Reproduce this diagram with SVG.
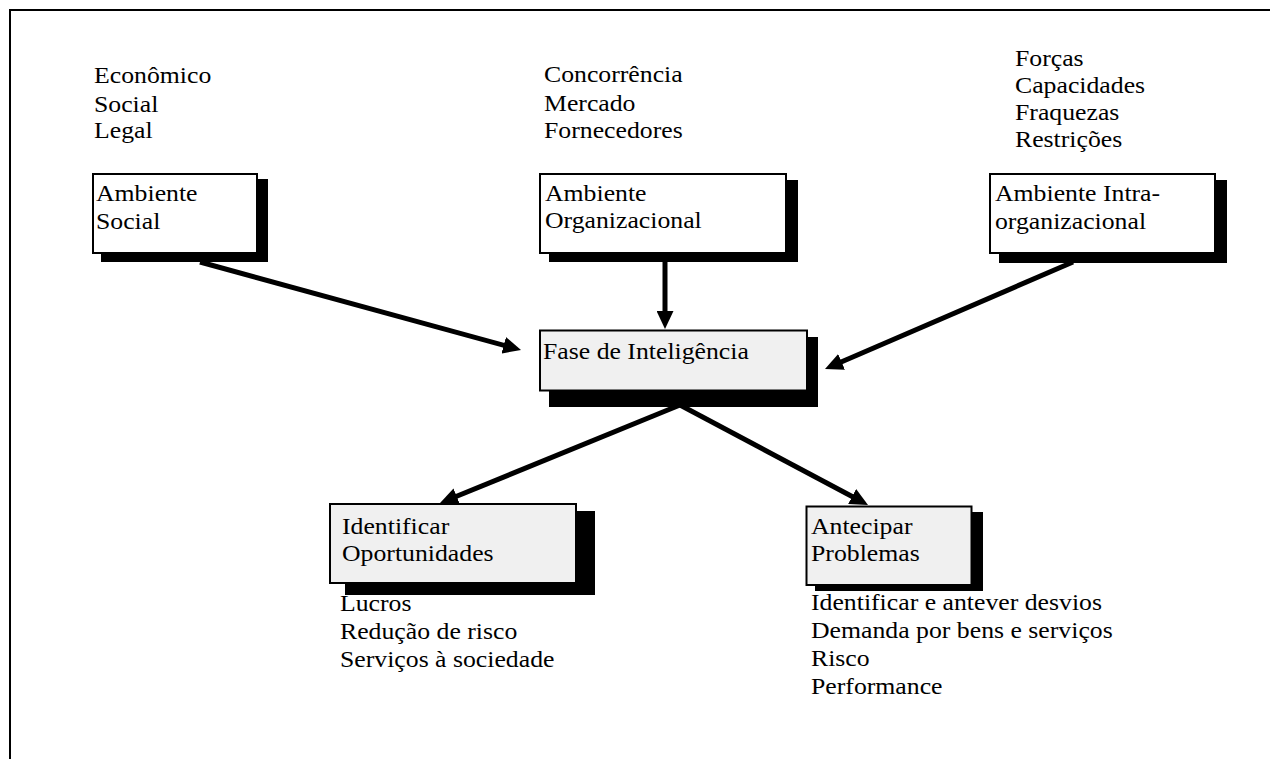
<svg xmlns="http://www.w3.org/2000/svg" width="1270" height="759" viewBox="0 0 1270 759">
  <style>
    .t { font-family: "Liberation Serif", "Times New Roman", serif; font-size: 23px; fill: #000;
         transform-box: fill-box; transform-origin: 0 0; transform: scaleX(1.12); }
    .box { stroke: #000; stroke-width: 2; }
    .plain { fill: #fff; }
    .grey { fill: #f0f0f0; }
    .shadow { fill: #000; }
    .frame { stroke: #000; stroke-width: 2; fill: none; }
    .arrow { stroke: #000; stroke-width: 5; fill: none; marker-end: url(#head); }
  </style>
  <defs>
    <marker id="head" markerUnits="userSpaceOnUse" markerWidth="18" markerHeight="17" refX="8" refY="8.5" orient="auto" viewBox="0 0 18 17">
      <path d="M0,0 L18,8.5 L0,17 z" fill="#000"/>
    </marker>
  </defs>

  <rect width="1270" height="759" fill="#fff"/>
  <!-- page frame: top and left edges only -->
  <path class="frame" d="M10,759 L10,10 L1270,10"/>

  <!-- factor lists above the environment boxes -->
  <g id="list-social">
    <text class="t" x="94" y="83">Econômico</text>
    <text class="t" x="94" y="112">Social</text>
    <text class="t" x="94" y="138">Legal</text>
  </g>
  <g id="list-org">
    <text class="t" x="544" y="82">Concorrência</text>
    <text class="t" x="544" y="111">Mercado</text>
    <text class="t" x="544" y="138">Fornecedores</text>
  </g>
  <g id="list-intra">
    <text class="t" x="1015" y="66">Forças</text>
    <text class="t" x="1015" y="93">Capacidades</text>
    <text class="t" x="1015" y="120">Fraquezas</text>
    <text class="t" x="1015" y="147">Restrições</text>
  </g>

  <g id="ambiente-social">
    <rect class="shadow" x="101" y="179" width="167" height="83"/>
    <rect class="box plain" x="93" y="174" width="164" height="79"/>
    <text class="t" x="96" y="201">Ambiente</text>
    <text class="t" x="96" y="229">Social</text>
  </g>

  <g id="ambiente-organizacional">
    <rect class="shadow" x="549" y="180" width="249" height="82"/>
    <rect class="box plain" x="540" y="174" width="246" height="79"/>
    <text class="t" x="545" y="201">Ambiente</text>
    <text class="t" x="545" y="228">Organizacional</text>
  </g>

  <g id="ambiente-intra">
    <rect class="shadow" x="999" y="180" width="228" height="83"/>
    <rect class="box plain" x="990" y="174" width="225" height="79"/>
    <text class="t" x="995" y="201">Ambiente Intra-</text>
    <text class="t" x="995" y="229">organizacional</text>
  </g>

  <g id="fase-inteligencia">
    <rect class="shadow" x="549" y="337" width="269" height="70"/>
    <rect class="box grey" x="540" y="330.5" width="267" height="60"/>
    <text class="t" x="543" y="359">Fase de Inteligência</text>
  </g>

  <g id="identificar-oportunidades">
    <rect class="shadow" x="345" y="511" width="250" height="84"/>
    <rect class="box grey" x="330" y="504" width="246" height="79"/>
    <text class="t" x="342" y="534">Identificar</text>
    <text class="t" x="342" y="561">Oportunidades</text>
    <text class="t" x="340" y="611">Lucros</text>
    <text class="t" x="340" y="639">Redução de risco</text>
    <text class="t" x="340" y="667">Serviços à sociedade</text>
  </g>

  <g id="antecipar-problemas">
    <rect class="shadow" x="815" y="512" width="168" height="79"/>
    <rect class="box grey" x="806.5" y="506.5" width="165" height="78.5"/>
    <text class="t" x="811" y="534">Antecipar</text>
    <text class="t" x="811" y="561">Problemas</text>
    <text class="t" x="811" y="610">Identificar e antever desvios</text>
    <text class="t" x="811" y="638">Demanda por bens e serviços</text>
    <text class="t" x="811" y="666">Risco</text>
    <text class="t" x="811" y="694">Performance</text>
  </g>

  <g id="connectors">
    <line class="arrow" x1="200" y1="262" x2="511.4" y2="347.4"/>
    <line class="arrow" x1="665" y1="262" x2="665" y2="319"/>
    <line class="arrow" x1="1073" y1="262" x2="834.2" y2="365"/>
    <line class="arrow" x1="680" y1="405" x2="449.3" y2="499.3"/>
    <line class="arrow" x1="680" y1="405" x2="859.2" y2="500.3"/>
  </g>
</svg>
